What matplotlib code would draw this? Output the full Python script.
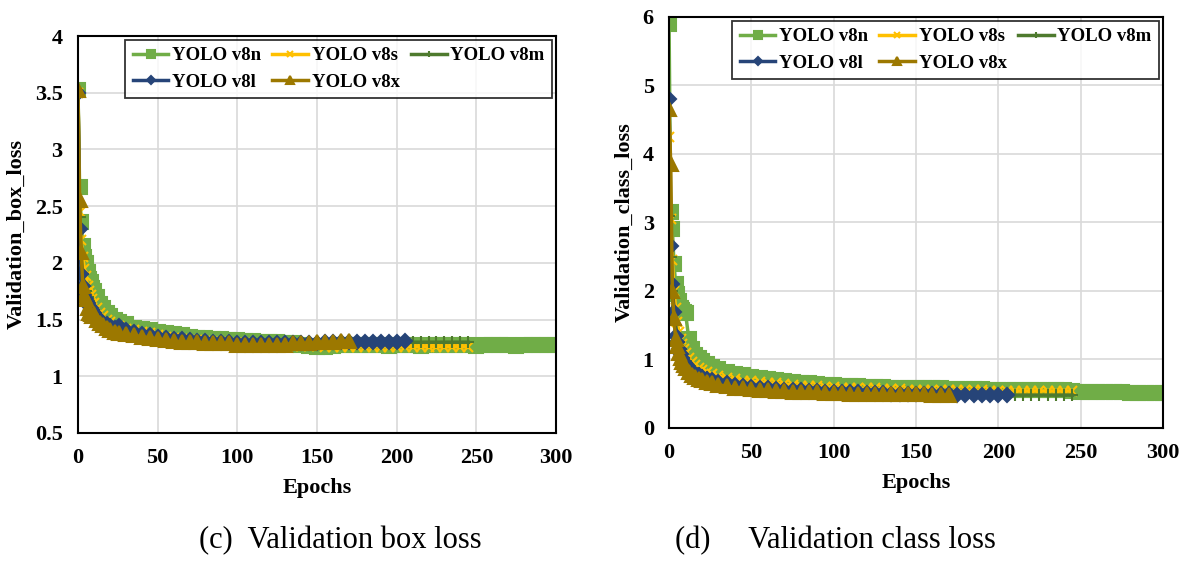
import matplotlib
matplotlib.use("Agg")
import matplotlib.pyplot as plt

plt.rcParams['font.family'] = ['Liberation Serif', 'DejaVu Serif']

# shared epoch grid (each series uses the first len(values) points)
epochs = [0, 1, 2, 3, 4, 5, 6, 7, 8, 9, 10,
          12, 14, 16, 18, 20, 23, 26, 30] + list(range(35, 301, 5))

names = ["YOLO v8n", "YOLO v8s", "YOLO v8m", "YOLO v8l", "YOLO v8x"]

box_v8n = [3.52, 2.67, 2.36, 2.15, 2.05, 2.00, 1.92, 1.86, 1.83, 1.78, 1.75,
           1.70, 1.64, 1.60, 1.56, 1.53, 1.50, 1.48, 1.46,
           1.43, 1.42, 1.41, 1.39, 1.38, 1.37, 1.36, 1.35, 1.34, 1.34,
           1.33, 1.33, 1.32, 1.32, 1.31, 1.31, 1.30, 1.30, 1.30, 1.29,
           1.29, 1.28, 1.27, 1.26, 1.26, 1.27, 1.28, 1.28, 1.28, 1.28,
           1.28, 1.28, 1.27, 1.28, 1.28, 1.28, 1.27, 1.28, 1.28, 1.28,
           1.28, 1.28, 1.28, 1.27, 1.28, 1.28, 1.28, 1.28, 1.27, 1.28,
           1.28, 1.28, 1.28, 1.28]
box_v8s = [3.50, 2.45, 2.20, 2.05, 1.95, 1.88, 1.80, 1.75, 1.72, 1.68, 1.65,
           1.60, 1.56, 1.53, 1.50, 1.48, 1.46, 1.44, 1.42,
           1.41, 1.39, 1.38, 1.36, 1.35, 1.34, 1.33, 1.32, 1.32, 1.31,
           1.30, 1.30, 1.29, 1.29, 1.29, 1.28, 1.28, 1.28, 1.28, 1.27,
           1.27, 1.27, 1.27, 1.27, 1.26, 1.26, 1.26, 1.26, 1.26, 1.26,
           1.26, 1.26, 1.26, 1.26, 1.26, 1.26, 1.26, 1.26, 1.26, 1.26,
           1.26, 1.26, 1.26]
box_v8m = [3.50, 2.40, 2.05, 1.90, 1.80, 1.75, 1.70, 1.66, 1.62, 1.60, 1.58,
           1.54, 1.51, 1.48, 1.46, 1.44, 1.42, 1.41, 1.39,
           1.38, 1.36, 1.35, 1.34, 1.33, 1.33, 1.32, 1.31, 1.31, 1.30,
           1.30, 1.29, 1.29, 1.29, 1.29, 1.29, 1.29, 1.29, 1.29, 1.29,
           1.29, 1.29, 1.29, 1.30, 1.30, 1.30, 1.30, 1.30, 1.30, 1.30,
           1.30, 1.30, 1.30, 1.30, 1.30, 1.30, 1.30, 1.30, 1.30, 1.30,
           1.30, 1.30, 1.30]
box_v8l = [3.50, 2.30, 1.90, 1.80, 1.72, 1.68, 1.65, 1.62, 1.60, 1.58, 1.56,
           1.52, 1.50, 1.47, 1.46, 1.44, 1.43, 1.44, 1.41,
           1.39, 1.37, 1.36, 1.35, 1.34, 1.33, 1.33, 1.32, 1.31, 1.31,
           1.30, 1.30, 1.30, 1.29, 1.29, 1.29, 1.29, 1.29, 1.29, 1.29,
           1.29, 1.29, 1.29, 1.29, 1.30, 1.30, 1.30, 1.30, 1.30, 1.30,
           1.30, 1.30, 1.30, 1.30, 1.31]
box_v8x = [3.52, 2.55, 2.10, 1.80, 1.72, 1.68, 1.60, 1.56, 1.55, 1.53, 1.55,
           1.50, 1.47, 1.45, 1.43, 1.41, 1.39, 1.38, 1.37,
           1.36, 1.35, 1.34, 1.33, 1.32, 1.31, 1.30, 1.30, 1.30, 1.29,
           1.29, 1.29, 1.29, 1.28, 1.28, 1.28, 1.28, 1.28, 1.28, 1.28,
           1.29, 1.29, 1.29, 1.30, 1.30, 1.30, 1.31, 1.31]

cls_v8n = [5.90, 3.15, 2.90, 2.40, 2.10, 1.95, 1.85, 1.75, 1.72, 1.70, 1.68,
           1.30, 1.15, 1.07, 1.02, 0.98, 0.93, 0.89, 0.86,
           0.82, 0.79, 0.77, 0.75, 0.73, 0.71, 0.70, 0.68, 0.67, 0.66,
           0.65, 0.64, 0.63, 0.63, 0.62, 0.61, 0.61, 0.60, 0.60, 0.60,
           0.59, 0.59, 0.59, 0.58, 0.58, 0.58, 0.58, 0.57, 0.57, 0.57,
           0.57, 0.57, 0.56, 0.56, 0.56, 0.56, 0.56, 0.56, 0.55, 0.55,
           0.55, 0.55, 0.54, 0.53, 0.53, 0.52, 0.52, 0.52, 0.52, 0.51,
           0.51, 0.51, 0.51, 0.51]
cls_v8s = [4.25, 3.05, 2.45, 2.00, 1.75, 1.55, 1.40, 1.30, 1.22, 1.15, 1.10,
           1.02, 0.96, 0.92, 0.88, 0.85, 0.82, 0.79, 0.76,
           0.73, 0.71, 0.69, 0.68, 0.67, 0.66, 0.65, 0.64, 0.63, 0.62,
           0.61, 0.61, 0.60, 0.60, 0.59, 0.59, 0.58, 0.58, 0.58, 0.57,
           0.57, 0.57, 0.56, 0.56, 0.56, 0.56, 0.55, 0.55, 0.55, 0.55,
           0.55, 0.55, 0.54, 0.54, 0.54, 0.54, 0.54, 0.54, 0.54, 0.54,
           0.54, 0.54, 0.54]
cls_v8m = [3.10, 2.50, 2.00, 1.70, 1.50, 1.35, 1.25, 1.15, 1.08, 1.02, 0.98,
           0.92, 0.87, 0.83, 0.80, 0.77, 0.74, 0.71, 0.69,
           0.66, 0.64, 0.62, 0.61, 0.60, 0.59, 0.58, 0.57, 0.56, 0.56,
           0.55, 0.55, 0.54, 0.54, 0.53, 0.53, 0.53, 0.52, 0.52, 0.52,
           0.51, 0.51, 0.51, 0.51, 0.50, 0.50, 0.50, 0.50, 0.50, 0.49,
           0.49, 0.49, 0.49, 0.49, 0.49, 0.48, 0.48, 0.48, 0.48, 0.48,
           0.48, 0.48, 0.48]
cls_v8l = [4.80, 2.65, 2.10, 1.70, 1.35, 1.25, 1.15, 1.08, 1.02, 0.97, 0.93,
           0.87, 0.83, 0.79, 0.77, 0.75, 0.72, 0.70, 0.67,
           0.65, 0.63, 0.61, 0.60, 0.59, 0.58, 0.57, 0.56, 0.55, 0.55,
           0.54, 0.54, 0.53, 0.53, 0.52, 0.52, 0.52, 0.51, 0.51, 0.51,
           0.50, 0.50, 0.50, 0.50, 0.49, 0.49, 0.49, 0.49, 0.48, 0.48,
           0.48, 0.48, 0.48, 0.48, 0.48]
cls_v8x = [4.65, 3.85, 2.00, 1.60, 1.30, 1.20, 1.10, 1.02, 0.96, 0.92, 0.88,
           0.82, 0.78, 0.75, 0.72, 0.70, 0.67, 0.65, 0.63,
           0.61, 0.59, 0.58, 0.57, 0.56, 0.55, 0.54, 0.54, 0.53, 0.53,
           0.52, 0.52, 0.51, 0.51, 0.51, 0.50, 0.50, 0.50, 0.50, 0.49,
           0.49, 0.49, 0.49, 0.49, 0.49, 0.48, 0.48, 0.48]

colors = ["#70AD47", "#FFC000", "#4E7A2E", "#264478", "#9C7800"]
markers = ["s", "x", "+", "D", "^"]
msizes = [10, 7, 9, 7, 10]

# legend reads row by row: n s m / l x
legend_order = [0, 3, 1, 4, 2]

fig = plt.figure(figsize=(11.89, 5.61), dpi=100)
ax1 = fig.add_axes([0.0656, 0.2282, 0.4020, 0.7076])
ax2 = fig.add_axes([0.5627, 0.2371, 0.4154, 0.7326])


def draw(ax, series, ylim, yticks, ylabel):
    lines = []
    for vals, name, c, m, ms in zip(series, names, colors, markers, msizes):
        ln, = ax.plot(epochs[:len(vals)], vals, color=c, marker=m,
                      markersize=ms, markeredgewidth=1.5, linewidth=2.5,
                      label=name)
        lines.append(ln)
    ax.set_xlim(0, 300)
    ax.set_ylim(*ylim)
    ax.set_xticks(range(0, 301, 50))
    ax.set_yticks(yticks)
    ax.set_yticklabels([f"{t:g}" for t in yticks])
    ax.grid(True, color="#D9D9D9", linewidth=1.2)
    ax.set_axisbelow(True)
    ax.tick_params(length=0, labelsize=16, pad=11)
    for lab in ax.get_xticklabels() + ax.get_yticklabels():
        lab.set_fontweight("bold")
    for sp in ax.spines.values():
        sp.set_color("black")
        sp.set_linewidth(1.5)
    ax.set_xlabel("Epochs", fontsize=16, fontweight="bold", labelpad=7)
    ax.set_ylabel(ylabel, fontsize=16, fontweight="bold", labelpad=6)
    leg = ax.legend([lines[i] for i in legend_order],
                    [names[i] for i in legend_order],
                    ncol=3, loc="upper right", fontsize=13.5, frameon=True,
                    fancybox=False, edgecolor="black", borderaxespad=0.2,
                    handlelength=1.9, columnspacing=0.6, handletextpad=0.2,
                    borderpad=0.4, labelspacing=0.5, markerscale=0.55)
    leg.get_frame().set_linewidth(1.3)
    for t in leg.get_texts():
        t.set_fontweight("bold")


draw(ax1, [box_v8n, box_v8s, box_v8m, box_v8l, box_v8x], (0.5, 4),
     [0.5, 1, 1.5, 2, 2.5, 3, 3.5, 4], "Validation_box_loss")
draw(ax2, [cls_v8n, cls_v8s, cls_v8m, cls_v8l, cls_v8x], (0, 6),
     [0, 1, 2, 3, 4, 5, 6], "Validation_class_loss")

fig.text(0.286, 0.036, "(c)  Validation box loss", fontsize=22,
         ha="center", va="center")
fig.text(0.703, 0.036, "(d)     Validation class loss", fontsize=22,
         ha="center", va="center")

fig.savefig("out.png", dpi=100)
